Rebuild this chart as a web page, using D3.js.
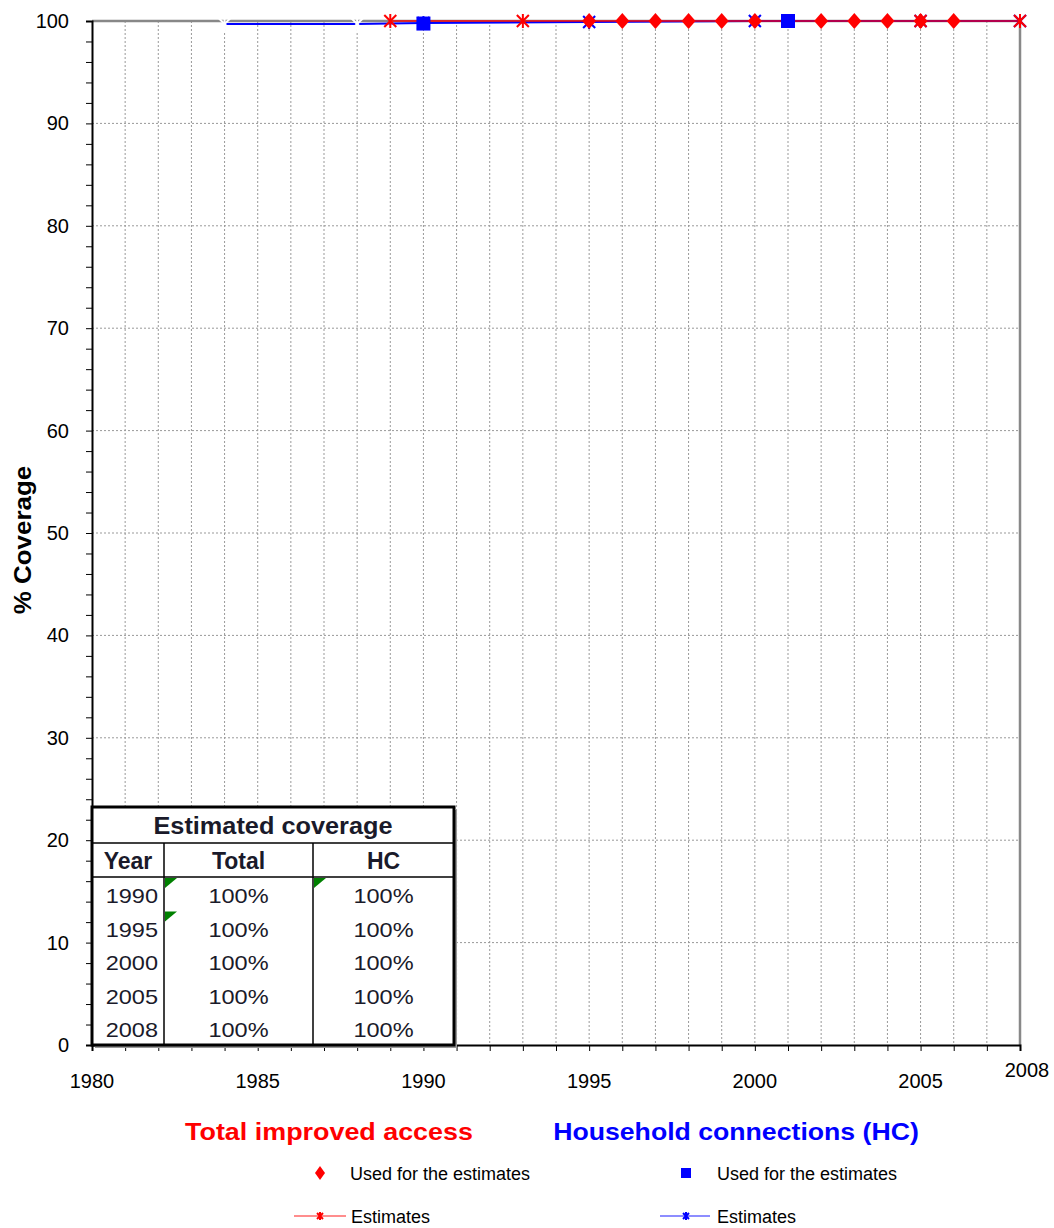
<!DOCTYPE html>
<html>
<head>
<meta charset="utf-8">
<script src="https://cdn.jsdelivr.net/npm/d3@7"></script>
<style>
  body { margin: 0; background: #fff; }
  svg { font-family: Arial, "Liberation Sans", sans-serif; }
</style>
</head>
<body>
<svg id="chart" width="1054" height="1228"></svg>
<script>
// data
var xTicks = [1980, 1985, 1990, 1995, 2000, 2005];
var yTicks = [0, 10, 20, 30, 40, 50, 60, 70, 80, 90, 100];

var totalEstYears = [1989, 1993, 1995, 2000, 2005, 2008];
var totalEstValues = [100, 100, 100, 100, 100, 100];
var totalUsedYears = [1995, 1996, 1997, 1998, 1999, 2000, 2002, 2003, 2004, 2005, 2006];
var totalUsedValues = [100, 100, 100, 100, 100, 100, 100, 100, 100, 100, 100];

var hcEstYears = [1984, 1988, 1990, 1995, 2000, 2005, 2008];
var hcEstValues = [99.7, 99.7, 99.8, 99.9, 100, 100, 100];
var hcUsedYears = [1990, 2001];
var hcUsedValues = [99.75, 100];

var tableYears = ["1990", "1995", "2000", "2005", "2008"];
var tableTotal = ["100%", "100%", "100%", "100%", "100%"];
var tableHC = ["100%", "100%", "100%", "100%", "100%"];

var svg = d3.select("#chart");
var pLeft = 92, pRight = 1020, pTop = 21, pBottom = 1045;

var x = d3.scaleLinear().domain([1980, 2008]).range([pLeft, pRight]);
var y = d3.scaleLinear().domain([0, 100]).range([pBottom, pTop]);

function zip(xs, ys) {
    return xs.map(function(d, i) { return {x: d, y: ys[i]}; });
}
// widen text a bit, the original font runs wider than Arial
function stretch(sel, k) {
    sel.each(function() {
        var w = this.getComputedTextLength();
        d3.select(this).attr("textLength", w * k).attr("lengthAdjust", "spacingAndGlyphs");
    });
}

// gridlines
var grid = svg.append("g");
grid.selectAll("line.v")
  .data(d3.range(1981, 2008))
  .enter().append("line")
    .attr("x1", d => x(d)).attr("x2", d => x(d))
    .attr("y1", pTop).attr("y2", pBottom)
    .attr("stroke", "#999").attr("stroke-width", 1)
    .attr("stroke-dasharray", "2,2");
grid.selectAll("line.h")
  .data(d3.range(10, 100, 10))
  .enter().append("line")
    .attr("x1", pLeft).attr("x2", pRight)
    .attr("y1", d => y(d)).attr("y2", d => y(d))
    .attr("stroke", "#999").attr("stroke-width", 1)
    .attr("stroke-dasharray", "2,2");

// plot border (gray top/right)
svg.append("line").attr("x1", pLeft).attr("x2", pRight).attr("y1", pTop).attr("y2", pTop)
  .attr("stroke", "#888").attr("stroke-width", 2.5);
svg.append("line").attr("x1", pRight).attr("x2", pRight).attr("y1", pTop).attr("y2", pBottom)
  .attr("stroke", "#888").attr("stroke-width", 2.5);

// axes
var yAxis = svg.append("g").attr("transform", "translate(" + pLeft + ",0)")
  .call(d3.axisLeft(y).tickValues(d3.range(0, 101, 2)).tickSize(6).tickFormat(""));
var xAxis = svg.append("g").attr("transform", "translate(0," + pBottom + ")")
  .call(d3.axisBottom(x).tickValues(d3.range(1980, 2009)).tickSize(6).tickFormat(""));
[yAxis, xAxis].forEach(function(a) {
    a.select(".domain").attr("stroke", "#000").attr("stroke-width", 2);
    a.selectAll(".tick line").attr("stroke", "#000");
});

svg.append("g").selectAll("text")
  .data(yTicks)
  .enter().append("text")
    .attr("x", 69).attr("y", d => y(d) + 7)
    .attr("text-anchor", "end").attr("font-size", 20)
    .text(d => d);

svg.append("g").selectAll("text")
  .data(xTicks)
  .enter().append("text")
    .attr("x", d => x(d)).attr("y", 1088)
    .attr("text-anchor", "middle").attr("font-size", 20)
    .text(d => d);
svg.append("text").attr("x", x(2008) + 7).attr("y", 1077)
  .attr("text-anchor", "middle").attr("font-size", 20).text("2008");

var yTitle = svg.append("text")
  .attr("transform", "translate(31,540) rotate(-90)")
  .attr("text-anchor", "middle").attr("font-size", 24).attr("font-weight", "bold")
  .text("% Coverage");
stretch(yTitle, 1.08);

// markers
function asterisk(g, cx, cy, color, r) {
    g.append("line").attr("x1", cx - r).attr("x2", cx + r).attr("y1", cy - r).attr("y2", cy + r)
      .attr("stroke", color).attr("stroke-width", 2);
    g.append("line").attr("x1", cx - r).attr("x2", cx + r).attr("y1", cy + r).attr("y2", cy - r)
      .attr("stroke", color).attr("stroke-width", 2);
    g.append("line").attr("x1", cx).attr("x2", cx).attr("y1", cy - r - 1).attr("y2", cy + r + 1)
      .attr("stroke", color).attr("stroke-width", 2);
}

var line = d3.line().x(d => x(d.x)).y(d => y(d.y));
var marks = svg.append("g");

// household connections estimates
var hcEst = zip(hcEstYears, hcEstValues);
marks.append("path").datum(hcEst).attr("d", line)
  .attr("fill", "none").attr("stroke", "#0000ff").attr("stroke-width", 2);
hcEst.forEach(function(d, i) {
    asterisk(marks, x(d.x), y(d.y), i < 2 ? "#fff" : "#0000ff", 6);
});

// total estimates
var totEst = zip(totalEstYears, totalEstValues);
marks.append("path").datum(totEst).attr("d", line)
  .attr("fill", "none").attr("stroke", "#ff0000").attr("stroke-opacity", 0.7).attr("stroke-width", 2);

// hc used
marks.selectAll("rect.hc")
  .data(zip(hcUsedYears, hcUsedValues))
  .enter().append("rect")
    .attr("x", d => x(d.x) - 7).attr("y", d => y(d.y) - 7)
    .attr("width", 14).attr("height", 14)
    .attr("fill", "#0000ff");

// total used
marks.selectAll("path.dia")
  .data(zip(totalUsedYears, totalUsedValues))
  .enter().append("path")
    .attr("d", d => "M" + x(d.x) + "," + (y(d.y) - 8) + "l7,8l-7,8l-7,-8z")
    .attr("fill", "#ff0000");

totEst.forEach(function(d) {
    if (totalUsedYears.indexOf(d.x) < 0 || d.x == 2005) asterisk(marks, x(d.x), y(d.y), "#ff0000", 6);
});

// table
var tbl = svg.append("g");
var tx0 = 92, tx1 = 164, tx2 = 313, tx3 = 454;
var ty0 = 807, ty1 = 843, ty2 = 877, rowH = 33.5;
tbl.append("rect").attr("x", tx0 + 3).attr("y", ty0 + 3).attr("width", tx3 - tx0).attr("height", pBottom - ty0)
  .attr("fill", "#999");
tbl.append("rect").attr("x", tx0).attr("y", ty0).attr("width", tx3 - tx0).attr("height", pBottom - ty0)
  .attr("fill", "#fff").attr("stroke", "#000").attr("stroke-width", 3);
tbl.append("line").attr("x1", tx0).attr("x2", tx3).attr("y1", ty1).attr("y2", ty1).attr("stroke", "#000").attr("stroke-width", 1.5);
tbl.append("line").attr("x1", tx0).attr("x2", tx3).attr("y1", ty2).attr("y2", ty2).attr("stroke", "#000").attr("stroke-width", 1.5);
[tx1, tx2].forEach(function(cx) {
    tbl.append("line").attr("x1", cx).attr("x2", cx).attr("y1", ty1).attr("y2", pBottom).attr("stroke", "#000").attr("stroke-width", 1.5);
});
var tHead = tbl.append("text").attr("x", (tx0 + tx3) / 2).attr("y", ty0 + 27)
  .attr("text-anchor", "middle").attr("font-size", 23).attr("font-weight", "bold").attr("fill", "#1a1a2a")
  .text("Estimated coverage");
stretch(tHead, 1.1);
[["Year", (tx0 + tx1) / 2], ["Total", (tx1 + tx2) / 2], ["HC", (tx2 + tx3) / 2]].forEach(function(h) {
    tbl.append("text").attr("x", h[1]).attr("y", ty1 + 26)
      .attr("text-anchor", "middle").attr("font-size", 23).attr("font-weight", "bold").attr("fill", "#1a1a2a")
      .text(h[0]);
});
var cells = tbl.append("g").attr("font-size", 21).attr("fill", "#1a1a2a");
tableYears.forEach(function(yr, i) {
    var by = ty2 + rowH * i + 26;
    cells.append("text").attr("x", tx1 - 6).attr("y", by).attr("text-anchor", "end").text(yr);
    cells.append("text").attr("x", (tx1 + tx2) / 2).attr("y", by).attr("text-anchor", "middle").text(tableTotal[i]);
    cells.append("text").attr("x", (tx2 + tx3) / 2).attr("y", by).attr("text-anchor", "middle").text(tableHC[i]);
});
stretch(cells.selectAll("text"), 1.12);
// comment flags
[[tx1, ty2], [tx1, ty2 + rowH], [tx2, ty2]].forEach(function(p) {
    tbl.append("path").attr("d", "M" + (p[0] + 1) + "," + (p[1] + 1) + "l12,0l-12,10z").attr("fill", "#008000");
});

// legend
var t1 = svg.append("text").attr("x", 329).attr("y", 1140).attr("text-anchor", "middle")
  .attr("font-size", 24).attr("font-weight", "bold").attr("fill", "#ff0000").text("Total improved access");
var t2 = svg.append("text").attr("x", 736).attr("y", 1140).attr("text-anchor", "middle")
  .attr("font-size", 24).attr("font-weight", "bold").attr("fill", "#0000ff").text("Household connections (HC)");
stretch(t1, 1.12);
stretch(t2, 1.11);

var lg = svg.append("g");
lg.append("path").attr("d", "M320,1166l5,7l-5,7l-5,-7z").attr("fill", "#ff0000");
lg.append("text").attr("x", 350).attr("y", 1180).attr("font-size", 18).text("Used for the estimates");
lg.append("rect").attr("x", 681).attr("y", 1168).attr("width", 10).attr("height", 10).attr("fill", "#0000ff");
lg.append("text").attr("x", 717).attr("y", 1180).attr("font-size", 18).text("Used for the estimates");

lg.append("line").attr("x1", 294).attr("x2", 346).attr("y1", 1216).attr("y2", 1216)
  .attr("stroke", "#ff0000").attr("stroke-opacity", 0.6).attr("stroke-width", 1.5);
asterisk(lg, 320, 1216, "#ff0000", 3);
lg.append("text").attr("x", 351).attr("y", 1223).attr("font-size", 18).text("Estimates");
lg.append("line").attr("x1", 660).attr("x2", 710).attr("y1", 1216).attr("y2", 1216)
  .attr("stroke", "#0000ff").attr("stroke-opacity", 0.6).attr("stroke-width", 1.5);
asterisk(lg, 686, 1216, "#0000ff", 3);
lg.append("text").attr("x", 717).attr("y", 1223).attr("font-size", 18).text("Estimates");
</script>
</body>
</html>
